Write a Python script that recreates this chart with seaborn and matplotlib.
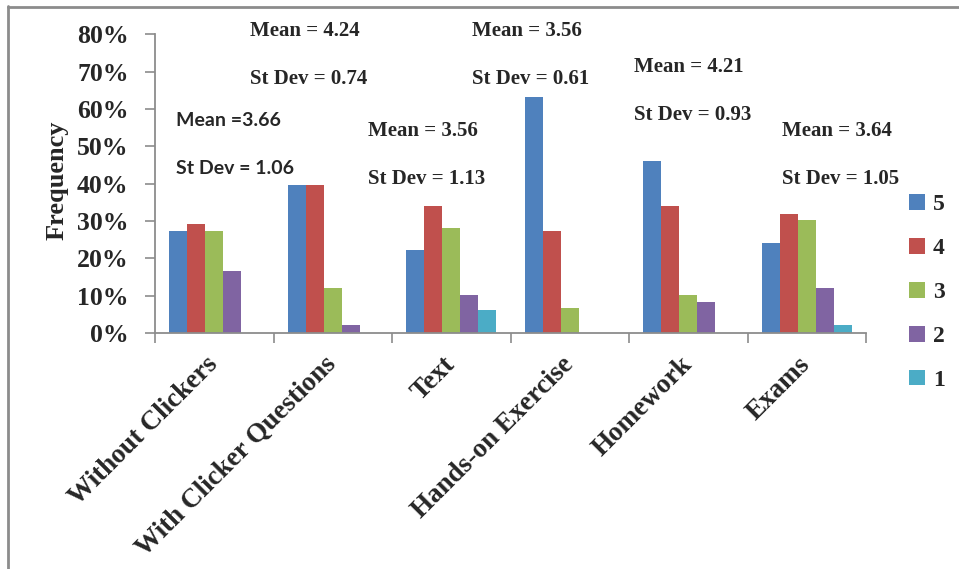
import numpy as np
import pandas as pd
import seaborn as sns
import matplotlib
matplotlib.use("Agg")
import matplotlib.pyplot as plt
from matplotlib.lines import Line2D
from matplotlib.font_manager import FontProperties
from matplotlib.ticker import PercentFormatter, FixedLocator

# Survey response distribution (percent of students) per learning activity
categories = ["Without Clickers", "With Clicker Questions", "Text",
              "Hands-on Exercise", "Homework", "Exams"]
ratings = ["5", "4", "3", "2", "1"]
pct_5 = [27.2, 39.7, 22.2, 63.3, 46.0, 24.0]
pct_4 = [29.1, 39.7, 33.9, 27.3, 33.9, 31.8]
pct_3 = [27.2, 12.0, 28.1, 6.6, 10.3, 30.2]
pct_2 = [16.7, 2.1, 10.3, 0.0, 8.2, 12.0]
pct_1 = [0.0, 0.0, 6.2, 0.0, 0.0, 2.1]
means = ["3.66", "4.24", "3.56", "3.56", "4.21", "3.64"]
stdevs = ["1.06", "0.74", "1.13", "0.61", "0.93", "1.05"]
y_ticks = [0, 10, 20, 30, 40, 50, 60, 70, 80]

colors = ["#4F81BD", "#C0504D", "#9BBB59", "#8064A2", "#4BACC6"]

rows = []
for r, vals in zip(ratings, [pct_5, pct_4, pct_3, pct_2, pct_1]):
    for c, v in zip(categories, vals):
        rows.append({"category": c, "rating": r, "value": v})
df = pd.DataFrame(rows)

sns.set_theme(style="white")
plt.rcParams["font.family"] = ["Liberation Serif", "DejaVu Serif"]

fig = plt.figure(figsize=(9.59, 5.69), dpi=100)
ax = fig.add_axes([155 / 959, 1 - 333 / 569, (866 - 155) / 959, (333 - 34.3) / 569])

sns.barplot(data=df, x="category", y="value", hue="rating",
            order=categories, hue_order=ratings, palette=colors,
            saturation=1, width=0.76, gap=0, dodge=True, errorbar=None,
            edgecolor="none", linewidth=0, legend=False, ax=ax)

ax.set_xlim(-0.5, len(categories) - 0.5)
ax.set_ylim(0, 80)
ax.set_yticks(y_ticks)
ax.yaxis.set_major_formatter(PercentFormatter(decimals=0))

for s in ["top", "right"]:
    ax.spines[s].set_visible(False)
for s in ["left", "bottom"]:
    ax.spines[s].set_color("#8C8C8C")
    ax.spines[s].set_linewidth(1.3)

serif_tick = FontProperties(family="Liberation Serif", weight="bold", size=18.5)
ax.tick_params(axis="y", which="major", direction="out", length=7, width=1.2,
               color="#8C8C8C", pad=12, left=True)
for lbl in ax.get_yticklabels():
    lbl.set_fontproperties(serif_tick)

# category labels at centres, boundary tick marks as minor ticks
ax.tick_params(axis="x", which="major", length=0, pad=20)
ax.xaxis.set_minor_locator(FixedLocator(np.arange(-0.5, len(categories), 1.0)))
ax.tick_params(axis="x", which="minor", direction="out", length=7, width=1.2,
               color="#8C8C8C", bottom=True)
ax.set_xticks(range(len(categories)))
ax.set_xticklabels(categories, rotation=45, ha="right", va="center",
                   rotation_mode="anchor",
                   fontproperties=FontProperties(family="Liberation Serif",
                                                 weight="bold", size=19.5))

ax.set_xlabel("")
ax.set_ylabel("Frequency",
              fontproperties=FontProperties(family="Liberation Serif",
                                            weight="bold", size=19))
ax.yaxis.set_label_coords(-0.122, 0.51)

# legend on the right
handles = [plt.Rectangle((0, 0), 1, 1, facecolor=c, edgecolor="none") for c in colors]
leg = fig.legend(handles, ratings, loc="upper left",
                 bbox_to_anchor=(888 / 959, 1 - 173 / 569),
                 frameon=False, handlelength=0.65, handleheight=0.65,
                 handletextpad=0.35, labelspacing=0.96,
                 prop=FontProperties(family="Liberation Serif", weight="bold", size=17))

# mean / standard deviation annotations
serif = FontProperties(family="Liberation Serif", weight="bold", size=15)
sans = FontProperties(family="Lato", weight="bold", size=14)
ann_pos = [(176, 121, sans), (250, 31, serif), (368, 131, serif),
           (472, 31, serif), (634, 67, serif), (782, 131, serif)]
for (px, py, fp), m, sd in zip(ann_pos, means, stdevs):
    mean_txt = f"Mean ={m}" if fp is sans else f"Mean = {m}"
    fig.text(px / 959, 1 - py / 569, mean_txt, ha="left", va="center",
             fontproperties=fp)
    fig.text(px / 959, 1 - (py + 48) / 569, f"St Dev = {sd}", ha="left",
             va="center", fontproperties=fp)

# outer chart-area border (left and top edges)
fig.add_artist(Line2D([7.5 / 959, 7.5 / 959], [0, 1 - 6 / 569],
                      transform=fig.transFigure, color="#8C8C8C", lw=2))
fig.add_artist(Line2D([7.5 / 959, 1], [1 - 6.5 / 569, 1 - 6.5 / 569],
                      transform=fig.transFigure, color="#8C8C8C", lw=2))

fig.savefig("out.png", dpi=100, facecolor="white")
